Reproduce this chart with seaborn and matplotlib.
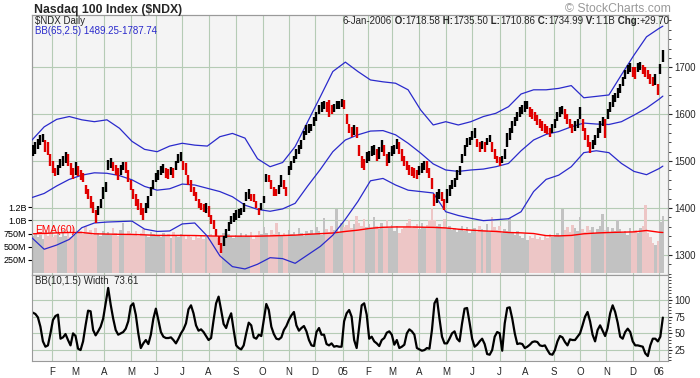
import matplotlib
matplotlib.use("Agg")
import matplotlib.pyplot as plt
import matplotlib.transforms as mtransforms
from matplotlib.ticker import MultipleLocator
import numpy as np
import pandas as pd
import seaborn as sns

# trading calendar of the chart (NYSE closed on these days)
FIRST_DAY = "2004-01-08"
LAST_DAY = "2006-01-06"
MARKET_HOLIDAYS = ["2004-01-19", "2004-02-16", "2004-04-09", "2004-05-31", "2004-06-11",
                   "2004-07-05", "2004-09-06", "2004-11-25", "2004-12-24", "2005-01-17",
                   "2005-02-21", "2005-03-25", "2005-05-30", "2005-07-04", "2005-09-05",
                   "2005-11-24", "2005-12-26", "2006-01-02"]

month_labels = ["F", "M", "A", "M", "J", "J", "A", "S", "O", "N", "D", "05",
                "F", "M", "A", "M", "J", "J", "A", "S", "O", "N", "D", "06"]

# price bars, one every second trading day (low / high)
price_low = [
    1510, 1515, 1525, 1535, 1540, 1520, 1512, 1490, 1475, 1468,
    1470, 1485, 1490, 1495, 1490, 1470, 1462, 1470, 1468, 1460,
    1455, 1430, 1420, 1400, 1390, 1368, 1385, 1400, 1420, 1435,
    1480, 1485, 1478, 1470, 1460, 1470, 1480, 1475, 1455, 1438,
    1420, 1405, 1395, 1385, 1375, 1390, 1400, 1425, 1440, 1455,
    1460, 1470, 1475, 1465, 1462, 1470, 1465, 1480, 1495, 1500,
    1480, 1470, 1450, 1435, 1425, 1415, 1400, 1395, 1392, 1390,
    1380, 1365, 1355, 1340, 1322, 1305, 1320, 1335, 1350, 1365,
    1370, 1375, 1378, 1385, 1392, 1415, 1420, 1415, 1412, 1400,
    1385, 1395, 1410, 1455, 1455, 1440, 1425, 1425, 1430, 1445,
    1440, 1425, 1470, 1480, 1495, 1505, 1515, 1525, 1545, 1555,
    1560, 1565, 1575, 1585, 1600, 1605, 1610, 1605, 1595, 1600,
    1605, 1610, 1612, 1615, 1610, 1580, 1560, 1552, 1555, 1550,
    1510, 1485, 1480, 1495, 1500, 1510, 1512, 1500, 1505, 1520,
    1510, 1490, 1495, 1510, 1515, 1525, 1515, 1500, 1490, 1480,
    1470, 1468, 1465, 1462, 1470, 1475, 1480, 1475, 1465, 1440,
    1405, 1410, 1420, 1415, 1395, 1410, 1425, 1440, 1445, 1460,
    1470, 1495, 1510, 1530, 1535, 1545, 1550, 1530, 1520, 1525,
    1520, 1535, 1540, 1520, 1505, 1495, 1490, 1495, 1505, 1530,
    1545, 1560, 1575, 1585, 1595, 1600, 1605, 1610, 1595, 1590,
    1585, 1578, 1570, 1565, 1560, 1558, 1552, 1560, 1570, 1585,
    1595, 1600, 1590, 1580, 1570, 1560, 1565, 1570, 1590, 1565,
    1545, 1530, 1518, 1525, 1535, 1550, 1560, 1575, 1550, 1590,
    1605, 1615, 1625, 1635, 1645, 1660, 1675, 1685, 1690, 1680,
    1675, 1690, 1695, 1685, 1680, 1675, 1665, 1660, 1662, 1640,
    1685, 1711]
price_high = [
    1535, 1540, 1548, 1556, 1558, 1545, 1540, 1515, 1500, 1485,
    1492, 1505, 1510, 1520, 1515, 1495, 1485, 1498, 1490, 1480,
    1475, 1450, 1440, 1425, 1412, 1395, 1405, 1420, 1445, 1455,
    1502, 1506, 1498, 1492, 1485, 1492, 1497, 1497, 1480, 1460,
    1440, 1430, 1420, 1410, 1400, 1410, 1425, 1445, 1460, 1475,
    1480, 1490, 1494, 1485, 1483, 1488, 1485, 1500, 1515, 1520,
    1500, 1495, 1470, 1460, 1445, 1435, 1420, 1410, 1408, 1410,
    1405, 1385, 1375, 1355, 1340, 1325, 1340, 1355, 1370, 1382,
    1390, 1395, 1398, 1400, 1410, 1435, 1440, 1430, 1430, 1415,
    1400, 1410, 1425, 1472, 1470, 1460, 1445, 1440, 1450, 1470,
    1460, 1445, 1490, 1500, 1510, 1525, 1535, 1545, 1565, 1577,
    1580, 1580, 1595, 1605, 1620, 1625, 1628, 1625, 1630, 1620,
    1622, 1628, 1628, 1632, 1630, 1600, 1580, 1572, 1578, 1572,
    1535, 1510, 1505, 1520, 1522, 1532, 1535, 1525, 1530, 1545,
    1535, 1515, 1520, 1532, 1535, 1548, 1540, 1525, 1510, 1500,
    1492, 1488, 1485, 1482, 1490, 1495, 1500, 1500, 1485, 1465,
    1430, 1435, 1440, 1435, 1420, 1440, 1450, 1460, 1465, 1480,
    1490, 1515, 1535, 1550, 1552, 1565, 1570, 1548, 1540, 1542,
    1540, 1550, 1555, 1540, 1525, 1510, 1508, 1510, 1525, 1560,
    1570, 1585, 1595, 1605, 1615, 1620, 1628, 1628, 1615, 1610,
    1605, 1598, 1590, 1585, 1580, 1575, 1570, 1580, 1590, 1605,
    1615, 1618, 1610, 1600, 1590, 1580, 1585, 1590, 1615, 1590,
    1570, 1555, 1540, 1545, 1555, 1570, 1585, 1595, 1590, 1612,
    1625, 1640, 1645, 1655, 1665, 1680, 1695, 1705, 1710, 1700,
    1700, 1710, 1712, 1705, 1700, 1695, 1685, 1680, 1685, 1665,
    1708, 1736]

# volume in millions, same sampling as the price bars
volume_m = [
    700, 760, 680, 720, 650, 780, 700, 740, 690, 720,
    760, 690, 820, 700, 760, 680, 880, 720, 760, 800,
    740, 900, 780, 820, 720, 850, 760, 700, 800, 740,
    780, 720, 860, 760, 700, 820, 960, 740, 800, 760,
    720, 790, 700, 760, 840, 720, 690, 780, 740, 700,
    720, 680, 760, 700, 740, 660, 780, 720, 680, 750,
    700, 650, 730, 680, 620, 700, 660, 720, 640, 690,
    680, 740, 700, 800, 660, 720, 760, 690, 740, 700,
    660, 720, 700, 760, 680, 740, 700, 780, 650, 720,
    800, 740, 880, 760, 700, 820, 740, 960, 780, 720,
    760, 700, 820, 740, 780, 720, 860, 760, 700, 800,
    760, 820, 740, 880, 800, 720, 1040, 840, 780, 900,
    820, 1220, 760, 960, 880, 920, 1000, 860, 940, 1080,
    960, 900, 1020, 880, 940, 860, 1060, 900, 840, 960,
    880, 1000, 860, 920, 800, 900, 760, 840, 880, 960,
    1020, 860, 900, 940, 840, 960, 880, 920, 1000, 1230,
    1000, 900, 940, 880, 1020, 860, 900, 820, 860, 780,
    840, 900, 800, 880, 760, 820, 860, 780, 900, 840,
    820, 940, 780, 1060, 880, 820, 900, 760, 840, 800,
    1040, 760, 720, 800, 700, 660, 740, 620, 700, 660,
    720, 640, 680, 620, 700, 660, 740, 680, 720, 760,
    700, 1220, 820, 880, 780, 920, 860, 800, 1060, 840,
    780, 900, 820, 880, 760, 840, 900, 1130, 820, 880,
    780, 860, 800, 1000, 840, 760, 800, 720, 860, 780,
    820, 760, 860, 900, 1300, 760, 680, 560, 540, 600,
    980, 1080]

# BB(10,1.5) width, same sampling as the price bars
bb_width = [
    81, 79, 74, 60, 38, 30, 32, 50, 70, 76,
    78, 42, 44, 49, 40, 32, 50, 46, 27, 25,
    38, 62, 84, 83, 55, 47, 53, 60, 72, 95,
    118, 93, 72, 55, 48, 50, 52, 57, 68, 91,
    95, 78, 50, 28, 35, 40, 34, 48, 72, 87,
    70, 52, 45, 43, 43, 44, 40, 35, 42, 50,
    56, 65, 86, 92, 80, 62, 54, 56, 52, 46,
    40, 43, 70, 95, 105, 85, 64, 58, 71, 80,
    55, 32, 28, 26, 32, 50, 66, 62, 44, 42,
    48, 46, 70, 94, 85, 60, 49, 42, 41, 44,
    55, 61, 70, 77, 82, 62, 54, 58, 61, 53,
    40, 32, 31, 52, 58, 48, 48, 34, 32, 35,
    30, 31, 30, 30, 68, 80, 85, 75, 40, 28,
    60, 92, 95, 78, 42, 45, 38, 35, 31, 40,
    43, 51, 53, 48, 33, 40, 28, 30, 33, 50,
    56, 53, 48, 28, 26, 24, 25, 28, 27, 55,
    95, 102, 72, 45, 35, 35, 42, 50, 53, 42,
    38, 65, 87, 88, 66, 42, 30, 33, 38, 42,
    34, 19, 18, 25, 45, 52, 50, 24, 65, 88,
    89, 72, 50, 34, 35, 34, 28, 30, 33, 37,
    38, 37, 32, 31, 32, 25, 19, 18, 25, 38,
    46, 44, 37, 32, 41, 40, 40, 45, 50, 62,
    75, 82, 68, 48, 38, 55, 62, 54, 46, 58,
    80, 92, 82, 66, 45, 42, 52, 57, 52, 38,
    32, 32, 31, 30, 20, 16, 32, 42, 42, 38,
    45, 73.61]

# BB(65,2.5) bands and the 60-day volume EMA, read every tenth trading day
band_upper = [1544, 1573, 1589, 1595, 1588, 1584, 1588, 1570, 1542, 1525,
              1520, 1532, 1538, 1534, 1532, 1552, 1559, 1549, 1505, 1488,
              1497, 1531, 1584, 1637, 1691, 1711, 1691, 1673, 1669, 1666,
              1652, 1609, 1577, 1584, 1577, 1584, 1595, 1602, 1616, 1643,
              1652, 1652, 1655, 1661, 1635, 1638, 1641, 1684, 1726, 1765,
              1783, 1787.74]
band_middle = [1422, 1431, 1447, 1461, 1470, 1475, 1474, 1469, 1460, 1446,
               1438, 1441, 1451, 1449, 1442, 1435, 1424, 1406, 1397, 1393,
               1398, 1410, 1447, 1482, 1520, 1545, 1556, 1564, 1565, 1556,
               1538, 1517, 1494, 1481, 1478, 1481, 1483, 1488, 1495, 1522,
               1545, 1557, 1563, 1573, 1581, 1579, 1578, 1584, 1598, 1613,
               1632, 1638.5]
band_lower = [1337, 1312, 1321, 1333, 1358, 1368, 1370, 1371, 1372, 1355,
              1350, 1351, 1366, 1368, 1340, 1298, 1275, 1270, 1280, 1294,
              1292, 1282, 1300, 1318, 1342, 1376, 1414, 1458, 1463, 1449,
              1438, 1435, 1432, 1392, 1384, 1378, 1373, 1375, 1377, 1392,
              1435, 1461, 1470, 1488, 1518, 1522, 1518, 1495, 1478, 1471,
              1484, 1489.25]
volume_ema = [745, 752, 763, 770, 770, 745, 740, 735, 733, 725,
              714, 714, 714, 712, 705, 700, 700, 700, 700, 705,
              712, 720, 735, 748, 760, 790, 815, 850, 870, 876,
              876, 872, 868, 857, 833, 815, 800, 790, 770, 763,
              750, 710, 705, 714, 745, 760, 770, 776, 782, 808,
              775, 770]

header_parts = [("6-Jan-2006", "normal"), (" O:", "bold"), ("1718.58", "normal"),
                (" H:", "bold"), ("1735.50", "normal"), (" L:", "bold"), ("1710.86", "normal"),
                (" C:", "bold"), ("1734.99", "normal"), (" V:", "bold"), ("1.1B", "normal"),
                (" Chg:", "bold"), ("+29.70", "normal")]

W, H = 700, 378
BG = "#F4F4F4"
GRID = "#B5CBB5"
FRAME = "#9A9A9A"
BLUE = "#2A2ACC"
RED = "#E00000"


def fpos(x, y):
    return x / W, 1 - y / H


def trading_days():
    days = pd.bdate_range(FIRST_DAY, LAST_DAY)
    return days[~days.isin(pd.to_datetime(MARKET_HOLIDAYS))]


def style_frame(ax):
    for sp in ax.spines.values():
        sp.set_color(FRAME)
        sp.set_linewidth(0.8)


def main():
    sns.set_style("white")
    plt.rcParams["font.family"] = ["Liberation Sans", "DejaVu Sans"]

    days = trading_days()
    day_pos = np.arange(len(days))
    bar_pos = day_pos[1::2]
    band_pos = np.r_[day_pos[::10], day_pos[-1]]
    month_start = np.flatnonzero(np.r_[False, days.month[1:] != days.month[:-1]])

    lo = np.array(price_low, float)
    hi = np.array(price_high, float)
    mid = (lo + hi) / 2
    up = np.r_[True, mid[1:] >= mid[:-1]]
    bar_colors = np.where(up, "black", RED)
    vol_colors = np.where(up, "#C2C2C2", "#EDC6C6")

    fig = plt.figure(figsize=(W / 100, H / 100), dpi=100)
    fig.patch.set_facecolor("white")
    ax_vol = fig.add_axes([32 / W, 1 - 275 / H, 636 / W, 260 / H])
    ax_price = ax_vol.twinx()
    ax_bbw = fig.add_axes([32 / W, 1 - 361 / H, 636 / W, 86 / H], sharex=ax_vol)

    # volume panel (left scale) with month grid underneath
    ax_vol.set_facecolor(BG)
    ax_vol.set_xlim(0.3, 507.1)
    ax_vol.set_ylim(-43, 4930)
    ax_vol.set_axisbelow(True)
    ax_vol.bar(bar_pos, volume_m, width=2.0, color=vol_colors, linewidth=0, zorder=2)
    sns.lineplot(x=band_pos, y=volume_ema, ax=ax_vol, color="#FF0000", linewidth=1.0, zorder=3)
    ax_vol.set_xticks(month_start)
    ax_vol.grid(axis="x", color=GRID, linewidth=0.8)
    ax_vol.axhline(1000, color=GRID, linewidth=0.8, zorder=0.5)
    ax_vol.set_yticks([250, 500, 750, 1000, 1250])
    ax_vol.set_yticklabels(["250M", "500M", "750M", "1.0B", "1.2B"])
    ax_vol.tick_params(axis="y", labelsize=6.5, length=3, pad=1, colors="black")
    ax_vol.tick_params(axis="x", length=0, labelbottom=False)
    ax_vol.set_xlabel("")
    ax_vol.set_ylabel("")

    # price panel (right scale)
    ax_price.set_ylim(1257.1, 1811.5)
    price_grid = mtransforms.blended_transform_factory(ax_vol.transAxes, ax_price.transData)
    for p in [1300, 1400, 1500, 1600, 1700]:
        ax_vol.plot([0, 1], [p, p], transform=price_grid, color=GRID, linewidth=0.8, zorder=0.5)
    sns.lineplot(x=band_pos, y=band_upper, ax=ax_price, color=BLUE, linewidth=0.9, zorder=3)
    sns.lineplot(x=band_pos, y=band_middle, ax=ax_price, color=BLUE, linewidth=0.9, zorder=3)
    sns.lineplot(x=band_pos, y=band_lower, ax=ax_price, color=BLUE, linewidth=0.9, zorder=3)
    ax_price.vlines(bar_pos, lo, hi, colors=bar_colors, linewidth=1.7, zorder=4)
    ax_price.set_yticks([1300, 1400, 1500, 1600, 1700])
    ax_price.yaxis.set_minor_locator(MultipleLocator(20))
    ax_price.tick_params(axis="y", which="major", labelsize=7, length=3, pad=1.5)
    ax_price.tick_params(axis="y", which="minor", length=2)
    ax_price.set_ylabel("")

    # BB width panel
    ax_bbw.set_facecolor(BG)
    ax_bbw.set_ylim(8.6, 137.4)
    ax_bbw.set_axisbelow(True)
    sns.lineplot(x=bar_pos, y=bb_width, ax=ax_bbw, color="black", linewidth=1.6)
    ax_bbw.yaxis.tick_right()
    ax_bbw.set_yticks([25, 50, 75, 100])
    ax_bbw.yaxis.set_minor_locator(MultipleLocator(5))
    ax_bbw.tick_params(axis="y", which="major", labelsize=7, length=3, pad=1.5)
    ax_bbw.tick_params(axis="y", which="minor", length=2)
    ax_bbw.set_xticks(month_start)
    ax_bbw.set_xticklabels(month_labels)
    ax_bbw.tick_params(axis="x", labelsize=7, length=2, pad=2)
    ax_bbw.grid(True, color=GRID, linewidth=0.8)
    ax_bbw.set_xlim(0.3, 507.1)
    ax_bbw.set_xlabel("")
    ax_bbw.set_ylabel("")

    for ax in (ax_vol, ax_price, ax_bbw):
        style_frame(ax)

    # texts
    fig.text(*fpos(33.5, 12.7), "Nasdaq 100 Index ($NDX)", fontsize=8.8, fontweight="bold",
             va="baseline")
    fig.text(*fpos(671, 12.5), "\u00a9 StockCharts.com", fontsize=8.8, color="#9A9A9A",
             ha="right", va="baseline")
    fig.text(*fpos(35, 24.5), "$NDX Daily", fontsize=7, va="baseline")
    fig.text(*fpos(35, 34), "BB(65,2.5) 1489.25-1787.74", fontsize=7, color=BLUE, va="baseline")
    fig.text(*fpos(35, 233.5), "EMA(60)", fontsize=7.3, color="#FF0000", va="baseline")
    fig.text(*fpos(35, 283.5), "BB(10,1.5) Width  73.61", fontsize=7, va="baseline")

    renderer = fig.canvas.get_renderer()
    x = 670
    for seg, weight in reversed(header_parts):
        t = fig.text(*fpos(x, 24.5), seg, fontsize=7, fontweight=weight, ha="right", va="baseline")
        x = t.get_window_extent(renderer).x0

    fig.savefig("out.png", dpi=100)


if __name__ == "__main__":
    main()
